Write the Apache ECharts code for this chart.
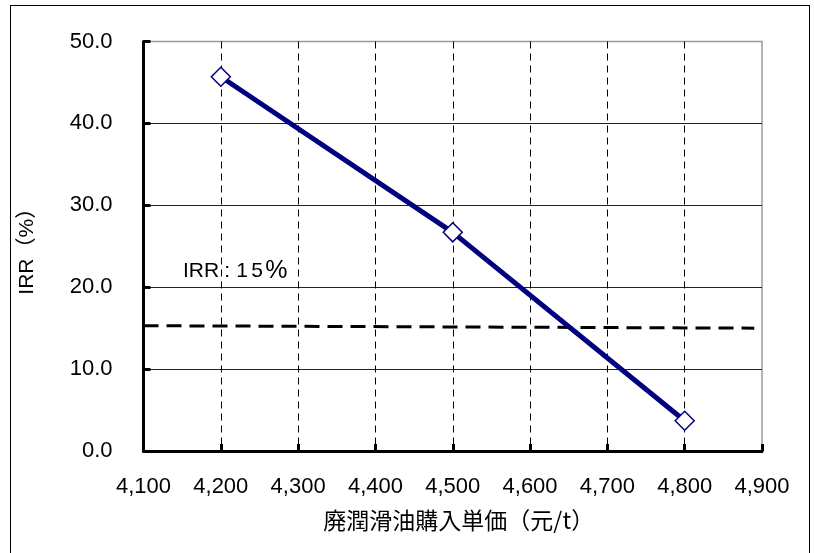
<!DOCTYPE html>
<html>
<head>
<meta charset="utf-8">
<script src="https://cdn.jsdelivr.net/npm/echarts@6/dist/echarts.min.js"></script>
<style>
  html, body { margin: 0; padding: 0; background: #fff; }
  #frame { position: absolute; left: 10px; top: 5px; width: 800px; height: 560px; border: 1.5px solid #000; box-sizing: border-box; }
  #chart { position: absolute; left: 0; top: 0; width: 814px; height: 553px; }
</style>
</head>
<body>
<div id="frame"></div>
<div id="chart"></div>
<script>
// Purchase price of waste lubricating oil (元/t) and resulting IRR (%)
const prices = [4200, 4500, 4800];
const irrValues = [45.7, 26.7, 3.7];

// Hurdle-rate reference line (IRR 15%)
const hurdleX = [4100, 4890];
const hurdleY = [15.3, 15.0];

// Axis settings
const xMin = 4100, xMax = 4900, xStep = 100;
const yMin = 0, yMax = 50, yStep = 10;
const xTitle = '廃潤滑油購入単価（元/t）';
const yTitle = 'IRR（%）';

const latin = "'Liberation Sans', Arial, 'Noto Sans CJK JP', sans-serif";
const cjk = "'Noto Sans CJK JP', 'Liberation Sans', sans-serif";

const xGridColors = [];
for (let v = xMin; v <= xMax; v += xStep) xGridColors.push(v === xMax ? 'rgba(0,0,0,0)' : '#000');
const yGridColors = [];
for (let v = yMin; v <= yMax; v += yStep) yGridColors.push(v === yMax ? 'rgba(0,0,0,0)' : '#222');

const chart = echarts.init(document.getElementById('chart'), null, { renderer: 'canvas' });
chart.setOption({
  animation: false,
  backgroundColor: 'transparent',
  grid: {
    left: 143.5, right: 52, top: 41.5, bottom: 102,
    show: true, borderColor: '#9a9a9a', borderWidth: 1.5, backgroundColor: 'transparent'
  },
  xAxis: {
    type: 'value', min: xMin, max: xMax, interval: xStep,
    name: xTitle, nameLocation: 'middle', nameGap: 58,
    nameTextStyle: { fontFamily: cjk, fontSize: 23, color: '#000', padding: [0, 0, 0, 12] },
    axisLine: { show: true, onZero: false, lineStyle: { color: '#000', width: 3 } },
    axisTick: { show: true, inside: true, length: 7, lineStyle: { color: '#000', width: 3 } },
    axisLabel: {
      margin: 25, fontFamily: latin, fontSize: 22, color: '#000',
      formatter: v => v.toLocaleString('en-US')
    },
    splitLine: { show: true, lineStyle: { color: xGridColors, width: 1, type: [7, 5] } }
  },
  yAxis: {
    type: 'value', min: yMin, max: yMax, interval: yStep,
    name: yTitle, nameLocation: 'middle', nameGap: 106,
    nameTextStyle: { fontFamily: latin, fontSize: 21, color: '#000' },
    axisLine: { show: true, onZero: false, lineStyle: { color: '#000', width: 3 } },
    axisTick: { show: true, inside: true, length: 7, lineStyle: { color: '#000', width: 3 } },
    axisLabel: {
      margin: 31, fontFamily: latin, fontSize: 22, color: '#000',
      formatter: v => v.toFixed(1)
    },
    splitLine: { show: true, lineStyle: { color: yGridColors, width: 1 } }
  },
  graphic: [{
    type: 'text', left: 183, top: 259, z: 10,
    style: {
      text: '{n|IRR}{c|:}{a|1}{b|5}{p|%}',
      fontFamily: latin, fontSize: 21, fill: '#000',
      rich: {
        n: { fontFamily: latin, fontSize: 21 },
        c: { fontFamily: latin, fontSize: 21, width: 16, align: 'center' },
        a: { fontFamily: latin, fontSize: 21, width: 14, align: 'center' },
        b: { fontFamily: latin, fontSize: 21, width: 16, align: 'center' },
        p: { fontFamily: latin, fontSize: 25 }
      }
    }
  }],
  series: [
    {
      type: 'line',
      data: hurdleX.map((x, i) => [x, hurdleY[i]]),
      symbol: 'none',
      lineStyle: { color: '#000', width: 3, type: [15, 8] },
      z: 2
    },
    {
      type: 'line',
      data: prices.map((p, i) => [p, irrValues[i]]),
      symbol: 'diamond', symbolSize: 19,
      lineStyle: { color: '#000080', width: 5 },
      itemStyle: { color: '#fff', borderColor: '#000080', borderWidth: 1.5 },
      z: 3
    }
  ]
});
</script>
</body>
</html>
